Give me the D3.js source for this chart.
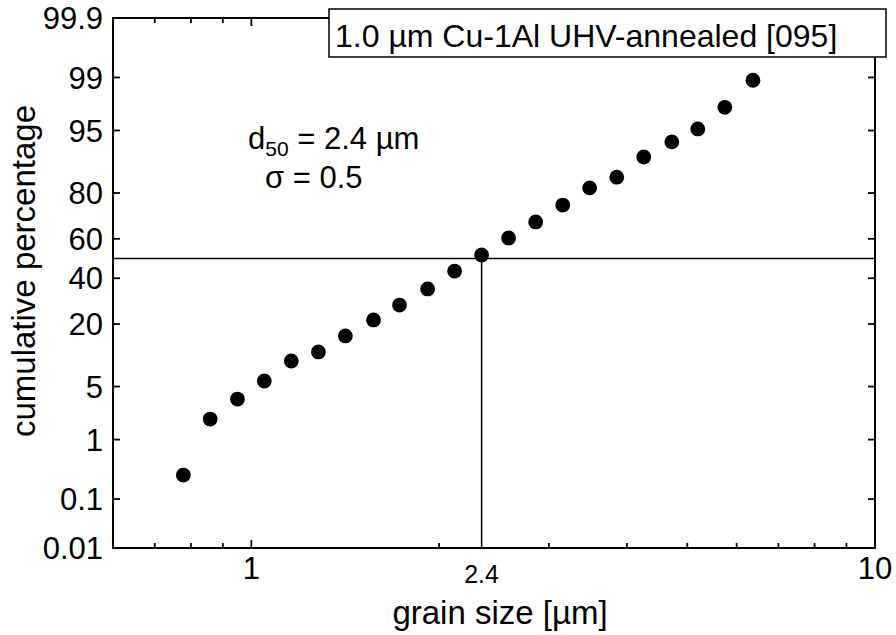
<!DOCTYPE html>
<html>
<head>
<meta charset="utf-8">
<script src="https://cdn.jsdelivr.net/npm/d3@7"></script>
<style>
  body { margin: 0; background: #fff; }
  text { font-family: "Liberation Sans", Arial, sans-serif; fill: #000; }
</style>
</head>
<body>
<div id="chart"></div>
<script>
// grain size [µm] and cumulative percentage
var grainSize = [0.778, 0.859, 0.950, 1.049, 1.159, 1.281, 1.415, 1.570, 1.728, 1.917, 2.118,
                 2.340, 2.585, 2.857, 3.157, 3.487, 3.854, 4.258, 4.723, 5.198, 5.744, 6.372];
var cumPercent = [0.27, 1.96, 3.55, 5.78, 9.40, 11.5, 16.0, 21.5, 27.5, 34.8, 43.6,
                  51.8, 60.4, 68.1, 75.4, 81.8, 85.2, 90.4, 93.3, 95.2, 97.4, 98.9];

var yTicks = [0.01, 0.1, 1, 5, 20, 40, 60, 80, 95, 99, 99.9];
var xMajorTicks = [1, 10];
var xMinorTicks = [0.7, 0.8, 0.9, 2, 3, 4, 5, 6, 7, 8, 9];
var d50 = 2.34, d50Label = "2.4";
var medianPercent = 50;
var legendText = "1.0 µm Cu-1Al UHV-annealed [095]";

// inverse normal cdf (Acklam)
function probit(p) {
    var a = [-3.969683028665376e+01, 2.209460984245205e+02, -2.759285104469687e+02, 1.383577518672690e+02, -3.066479806614716e+01, 2.506628277459239e+00];
    var b = [-5.447609879822406e+01, 1.615858368580409e+02, -1.556989798598866e+02, 6.680131188771972e+01, -1.328068155288572e+01];
    var c = [-7.784894002430293e-03, -3.223964580411365e-01, -2.400758277161838e+00, -2.549732539343734e+00, 4.374664141464968e+00, 2.938163982698783e+00];
    var d = [7.784695709041462e-03, 3.224671290700398e-01, 2.445134137142996e+00, 3.754408661907416e+00];
    var pl = 0.02425, q, r;
    if (p < pl) {
        q = Math.sqrt(-2 * Math.log(p));
        return (((((c[0]*q+c[1])*q+c[2])*q+c[3])*q+c[4])*q+c[5]) / ((((d[0]*q+d[1])*q+d[2])*q+d[3])*q+1);
    } else if (p <= 1 - pl) {
        q = p - 0.5; r = q * q;
        return (((((a[0]*r+a[1])*r+a[2])*r+a[3])*r+a[4])*r+a[5])*q / (((((b[0]*r+b[1])*r+b[2])*r+b[3])*r+b[4])*r+1);
    } else {
        q = Math.sqrt(-2 * Math.log(1 - p));
        return -(((((c[0]*q+c[1])*q+c[2])*q+c[3])*q+c[4])*q+c[5]) / ((((d[0]*q+d[1])*q+d[2])*q+d[3])*q+1);
    }
}

var margin = {top: 18, right: 21, bottom: 87, left: 113},
    width = 896 - margin.left - margin.right,
    height = 635 - margin.top - margin.bottom;

var x = d3.scaleLog().domain([0.6, 10]).range([0, width]);
var zScale = d3.scaleLinear().domain([probit(0.0001), probit(0.999)]).range([height, 0]);
var y = function(pct) { return zScale(probit(pct / 100)); };

var svg = d3.select("#chart").append("svg")
    .attr("width", 896).attr("height", 635)
  .append("g")
    .attr("transform", "translate(" + margin.left + "," + margin.top + ")");

// median reference lines
svg.append("line")
    .attr("x1", 0).attr("x2", width)
    .attr("y1", y(medianPercent)).attr("y2", y(medianPercent))
    .attr("stroke", "#000").attr("stroke-width", 1.5);
svg.append("line")
    .attr("x1", x(d50)).attr("x2", x(d50))
    .attr("y1", y(medianPercent)).attr("y2", height)
    .attr("stroke", "#000").attr("stroke-width", 1.5);

// points
svg.selectAll("circle")
    .data(grainSize)
    .enter()
    .append("circle")
        .attr("cx", function(d) { return x(d) })
        .attr("cy", function(d, i) { return y(cumPercent[i]) })
        .attr("r", 7.4)
        .attr("fill", "#000");

// frame
svg.append("rect")
    .attr("width", width).attr("height", height)
    .attr("fill", "none").attr("stroke", "#000").attr("stroke-width", 2);

// ticks (inward, on all four sides)
var tickColor = "#000";
[0, height].forEach(function(yy) {
    var dir = yy === 0 ? 1 : -1;
    svg.selectAll(null).data(xMinorTicks).enter().append("line")
        .attr("x1", function(d) { return x(d) }).attr("x2", function(d) { return x(d) })
        .attr("y1", yy).attr("y2", yy + dir * 5)
        .attr("stroke", tickColor).attr("stroke-width", 1.8);
    svg.selectAll(null).data(xMajorTicks).enter().append("line")
        .attr("x1", function(d) { return x(d) }).attr("x2", function(d) { return x(d) })
        .attr("y1", yy).attr("y2", yy + dir * 8)
        .attr("stroke", tickColor).attr("stroke-width", 1.8);
});
[0, width].forEach(function(xx) {
    var dir = xx === 0 ? 1 : -1;
    svg.selectAll(null).data(yTicks).enter().append("line")
        .attr("x1", xx).attr("x2", xx + dir * 7)
        .attr("y1", function(d) { return y(d) }).attr("y2", function(d) { return y(d) })
        .attr("stroke", tickColor).attr("stroke-width", 1.8);
});

// tick labels
svg.selectAll(null).data(yTicks).enter().append("text")
    .attr("x", -10)
    .attr("y", function(d) { return y(d) })
    .attr("dy", "0.36em")
    .attr("text-anchor", "end")
    .style("font-size", "31px")
    .text(function(d) { return d });

svg.selectAll(null).data(xMajorTicks).enter().append("text")
    .attr("x", function(d) { return x(d) })
    .attr("y", height + 31)
    .attr("text-anchor", "middle")
    .style("font-size", "31px")
    .text(function(d) { return d });

svg.append("text")
    .attr("x", x(d50))
    .attr("y", height + 35)
    .attr("text-anchor", "middle")
    .style("font-size", "25px")
    .text(d50Label);

// axis titles
svg.append("text")
    .attr("x", width / 2 + 6)
    .attr("y", height + 76)
    .attr("text-anchor", "middle")
    .style("font-size", "33px")
    .text("grain size [µm]");

svg.append("text")
    .attr("transform", "translate(" + (35 - margin.left) + "," + (height / 2 - 12) + ") rotate(-90)")
    .attr("text-anchor", "middle")
    .style("font-size", "33px")
    .text("cumulative percentage");

// annotations
var ann = svg.append("text")
    .attr("x", 135)
    .attr("y", 131)
    .style("font-size", "31px");
ann.append("tspan").text("d");
ann.append("tspan").attr("dy", 7).style("font-size", "21px").text("50");
ann.append("tspan").attr("dy", -7).text(" = 2.4 µm");

svg.append("text")
    .attr("x", 152)
    .attr("y", 170)
    .style("font-size", "31px")
    .text("σ = 0.5");

// legend box
svg.append("rect")
    .attr("x", 216).attr("y", -9)
    .attr("width", 557).attr("height", 48)
    .attr("fill", "#fff").attr("stroke", "#000").attr("stroke-width", 1.5);
svg.append("text")
    .attr("x", 222).attr("y", 29)
    .style("font-size", "32px")
    .text(legendText);
</script>
</body>
</html>
